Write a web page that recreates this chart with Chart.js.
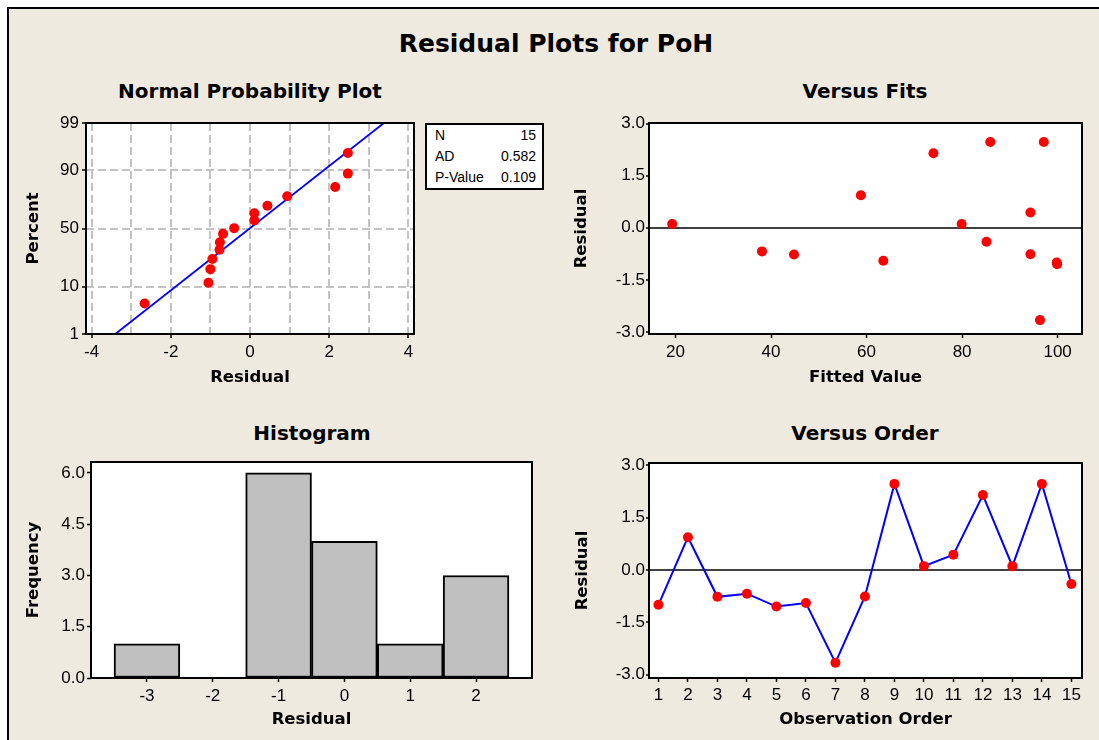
<!DOCTYPE html>
<html>
<head>
<meta charset="utf-8">
<title>Residual Plots for PoH</title>
<script src="https://cdn.jsdelivr.net/npm/chart.js@4.4.1/dist/chart.umd.min.js"></script>
<style>
  body { margin: 0; width: 1099px; height: 740px; background: #fff; position: relative; overflow: hidden; }
  #frame { position: absolute; left: 7px; top: 7px; right: 0; bottom: 0; background: #eeeae0; border-top: 2px solid #000; border-left: 2px solid #000; }
  .title { position: absolute; font-family: 'DejaVu Sans', sans-serif; font-weight: bold; color: #000; text-align: center; line-height: 1; white-space: nowrap; }
  .main { font-size: 25px; left: 356px; width: 400px; top: 31px; }
  .sub { font-size: 20px; width: 300px; }
  canvas { position: absolute; }
  #stats { position: absolute; left: 425px; top: 123px; width: 119px; height: 67px; box-sizing: border-box; border: 2px solid #000; background: #fff; font-family: 'Liberation Sans', sans-serif; font-size: 14px; }
  #stats table { border-collapse: collapse; width: 100%; }
  #stats td { padding: 0 0 0 8px; line-height: 21px; }
  #stats td.v { text-align: right; padding: 0 6px 0 0; }
</style>
</head>
<body>
<div id="frame"></div>
<div class="title main">Residual Plots for PoH</div>
<div class="title sub" style="left:100px; top:81px">Normal Probability Plot</div>
<div class="title sub" style="left:715px; top:81px">Versus Fits</div>
<div class="title sub" style="left:162px; top:423px">Histogram</div>
<div class="title sub" style="left:715px; top:423px">Versus Order</div>
<canvas id="probChart" width="430" height="300" style="left:0; top:100px"></canvas>
<canvas id="fitsChart" width="549" height="300" style="left:550px; top:100px"></canvas>
<canvas id="histChart" width="549" height="300" style="left:0; top:440px"></canvas>
<canvas id="orderChart" width="549" height="300" style="left:550px; top:440px"></canvas>
<div id="stats"><table id="statsTable"></table></div>

<script>
// residuals and fitted values, in observation order
const observation = [1, 2, 3, 4, 5, 6, 7, 8, 9, 10, 11, 12, 13, 14, 15];
const residuals = [-1.00, 0.94, -0.77, -0.68, -1.05, -0.95, -2.66, -0.76, 2.47, 0.11, 0.44, 2.15, 0.11, 2.47, -0.40];
const fittedValues = [99.8, 58.8, 44.8, 38.1, 99.9, 63.5, 96.3, 94.3, 85.9, 19.3, 94.3, 74.0, 79.9, 97.1, 85.1];

// normal probability plot (percent for the sorted residuals)
const probPercent = [4.9, 11.6, 18.5, 25.0, 32.0, 38.1, 45.3, 50.3, 57.1, 63.2, 69.2, 76.1, 82.0, 88.7, 95.2];
const fitLineResidual = [-3.40, 3.38];
const fitLinePercent = [1, 99];
const percentTicks = [1, 10, 50, 90, 99];
const probResidualTicks = [-4, -3, -2, -1, 0, 1, 2, 3, 4];

// histogram
const binMidpoints = [-3, -2, -1, 0, 1, 2];
const binCounts = [1, 0, 6, 4, 1, 3];
const frequencyTicks = [0, 1.5, 3.0, 4.5, 6.0];

const residualTicks = [-3.0, -1.5, 0, 1.5, 3.0];
const fitTicks = [20, 40, 60, 80, 100];

const statLabels = ['N', 'AD', 'P-Value'];
const statValues = ['15', '0.582', '0.109'];

const tickFont = { family: 'Liberation Sans', size: 17 };
const titleFont = { family: 'DejaVu Sans', size: 16.5, weight: 'bold' };

// inverse normal cdf (Acklam), used for the probability axis
function probit(p) {
    const a = [-39.69683028665376, 220.9460984245205, -275.9285104469687, 138.3577518672690, -30.66479806614716, 2.506628277459239];
    const b = [-54.47609879822406, 161.5858368580409, -155.6989798598866, 66.80131188771972, -13.28068155288572];
    const c = [-0.007784894002430293, -0.3223964580411365, -2.400758277161838, -2.549732539343734, 4.374664141464968, 2.938163982698783];
    const d = [0.007784695709041462, 0.3224671290700398, 2.445134137142996, 3.754408661907416];
    const tail = q => (((((c[0] * q + c[1]) * q + c[2]) * q + c[3]) * q + c[4]) * q + c[5]) /
        ((((d[0] * q + d[1]) * q + d[2]) * q + d[3]) * q + 1);
    if (p < 0.02425) return tail(Math.sqrt(-2 * Math.log(p)));
    if (p > 0.97575) return -tail(Math.sqrt(-2 * Math.log(1 - p)));
    const q = p - 0.5, r = q * q;
    return (((((a[0] * r + a[1]) * r + a[2]) * r + a[3]) * r + a[4]) * r + a[5]) * q /
        (((((b[0] * r + b[1]) * r + b[2]) * r + b[3]) * r + b[4]) * r + 1);
}

// white plot area with a black box round it
const plotFrame = {
    id: 'plotFrame',
    beforeDraw(chart) {
        const { ctx, chartArea: a } = chart;
        ctx.save();
        ctx.fillStyle = '#fff';
        ctx.fillRect(a.left, a.top, a.width, a.height);
        ctx.restore();
    },
    afterDraw(chart) {
        const { ctx, chartArea: a } = chart;
        ctx.save();
        ctx.lineWidth = 2;
        ctx.strokeStyle = '#000';
        ctx.strokeRect(a.left, a.top, a.width, a.height);
        ctx.restore();
    }
};
Chart.register(plotFrame);

function axis(o) {
    return {
        type: 'linear',
        position: o.position,
        min: o.min,
        max: o.max,
        offset: false,
        afterBuildTicks: s => { s.ticks = o.ticks.map(v => ({ value: v })); },
        afterFit: s => {
            if (o.position === 'left') s.width = o.size;
            else s.height = o.size;
        },
        border: { display: false, dash: o.dash || [] },
        grid: Object.assign({
            offset: false,
            drawOnChartArea: false,
            tickLength: o.tickLength || 4,
            tickColor: '#000',
            tickWidth: 1.5,
            tickBorderDash: []
        }, o.grid),
        ticks: { font: tickFont, color: '#000', padding: o.pad, autoSkip: false, maxRotation: 0, callback: o.label },
        title: { display: true, text: o.title, font: titleFont, color: '#000', padding: o.titlePad }
    };
}

function baseOptions(padding, scales) {
    return {
        responsive: false,
        animation: false,
        layout: { padding: Object.assign({ left: 0, bottom: 0 }, padding) },
        plugins: { legend: { display: false }, tooltip: { enabled: false } },
        scales: scales
    };
}

const zeroLine = {
    drawOnChartArea: true,
    color: c => c.tick && c.tick.value === 0 ? '#404040' : 'rgba(0,0,0,0)',
    lineWidth: 2
};

const probGrid = { drawOnChartArea: true, color: '#c3c3c3', lineWidth: 2 };

// Normal Probability Plot
const sortedResiduals = residuals.slice().sort((p, q) => p - q);
new Chart(document.getElementById('probChart'), {
    type: 'scatter',
    data: {
        datasets: [{
            data: sortedResiduals.map((r, i) => ({ x: r, y: probit(probPercent[i] / 100) })),
            pointRadius: 5,
            pointBackgroundColor: '#ff0000',
            pointBorderWidth: 0
        }, {
            data: fitLineResidual.map((r, i) => ({ x: r, y: probit(fitLinePercent[i] / 100) })),
            showLine: true,
            borderColor: '#0000ff',
            borderWidth: 1.8,
            pointRadius: 0
        }]
    },
    options: baseOptions({ top: 23, right: 16 }, {
        x: axis({
            position: 'bottom', min: -4.14, max: 4.14, ticks: probResidualTicks, size: 66, pad: 4,
            title: 'Residual', titlePad: { bottom: 12 },
            label: v => v % 2 === 0 ? String(v) : '',
            dash: [8, 4],
            grid: Object.assign({}, probGrid, {
                tickColor: c => c.tick && c.tick.value % 2 === 0 ? '#000' : 'rgba(0,0,0,0)'
            })
        }),
        y: axis({
            position: 'left', min: probit(0.01), max: probit(0.99),
            ticks: percentTicks.map(p => probit(p / 100)), size: 86, pad: 3,
            title: 'Percent', titlePad: { top: 24 },
            label: (v, i) => String(percentTicks[i]),
            dash: [8, 4],
            grid: probGrid
        })
    })
});

// Versus Fits
new Chart(document.getElementById('fitsChart'), {
    type: 'scatter',
    data: {
        datasets: [{
            data: fittedValues.map((f, i) => ({ x: f, y: residuals[i] })),
            pointRadius: 5,
            pointBackgroundColor: '#ff0000',
            pointBorderWidth: 0
        }]
    },
    options: baseOptions({ top: 23, right: 17 }, {
        x: axis({
            position: 'bottom', min: 14.45, max: 105.1, ticks: fitTicks, size: 66, pad: 4,
            title: 'Fitted Value', titlePad: { bottom: 12 }, label: v => String(v)
        }),
        y: axis({
            position: 'left', min: -3.06, max: 3.02, ticks: residualTicks, size: 99, pad: 1, tickLength: 3,
            title: 'Residual', titlePad: { top: 22 }, label: v => v.toFixed(1), grid: zeroLine
        })
    })
});

// Histogram
new Chart(document.getElementById('histChart'), {
    type: 'bar',
    data: {
        datasets: [{
            data: binMidpoints.map((m, i) => ({ x: m, y: binCounts[i] })),
            backgroundColor: '#c0c0c0',
            borderColor: '#000',
            borderWidth: 2,
            borderSkipped: false,
            barPercentage: 1,
            categoryPercentage: 1
        }]
    },
    options: baseOptions({ top: 22, right: 17 }, {
        x: axis({
            position: 'bottom', min: -3.85, max: 2.85, ticks: binMidpoints, size: 62, pad: 4,
            title: 'Residual', titlePad: { bottom: 10 }, label: v => String(v)
        }),
        y: axis({
            position: 'left', min: 0, max: 6.32, ticks: frequencyTicks, size: 91, pad: 2,
            title: 'Frequency', titlePad: { top: 24 }, label: v => v.toFixed(1)
        })
    })
});

// Versus Order
new Chart(document.getElementById('orderChart'), {
    type: 'scatter',
    data: {
        datasets: [{
            data: observation.map((o, i) => ({ x: o, y: residuals[i] })),
            showLine: true,
            borderColor: '#0000ff',
            borderWidth: 2,
            pointRadius: 5,
            pointBackgroundColor: '#ff0000',
            pointBorderWidth: 0
        }]
    },
    options: baseOptions({ top: 23, right: 17 }, {
        x: axis({
            position: 'bottom', min: 0.68, max: 15.36, ticks: observation, size: 62, pad: 3,
            title: 'Observation Order', titlePad: { bottom: 10 }, label: v => String(v)
        }),
        y: axis({
            position: 'left', min: -3.1, max: 3.07, ticks: residualTicks, size: 99, pad: 1, tickLength: 3,
            title: 'Residual', titlePad: { top: 23 }, label: v => v.toFixed(1), grid: zeroLine
        })
    })
});

// summary statistics box
const statsTable = document.getElementById('statsTable');
statLabels.forEach((label, i) => {
    const row = statsTable.insertRow();
    row.insertCell().textContent = label;
    const cell = row.insertCell();
    cell.className = 'v';
    cell.textContent = statValues[i];
});
</script>
</body>
</html>
